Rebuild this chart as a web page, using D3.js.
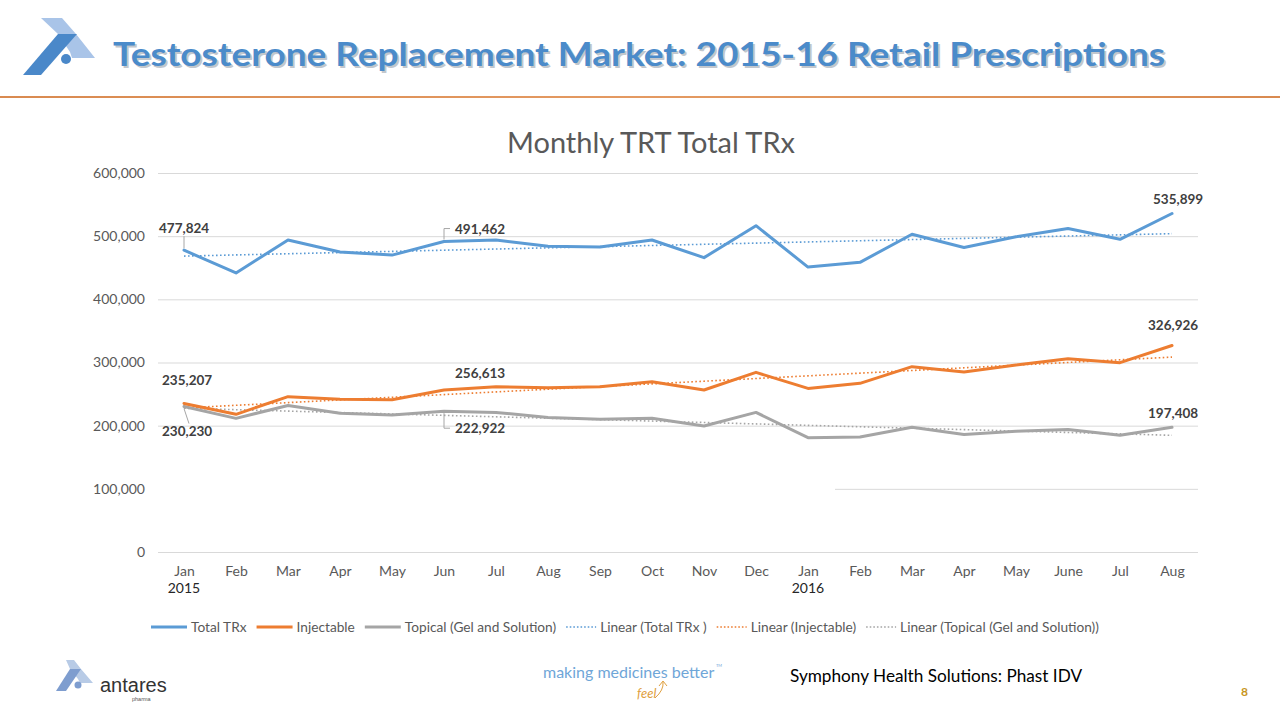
<!DOCTYPE html>
<html><head><meta charset="utf-8">
<script src="https://cdn.jsdelivr.net/npm/d3@7"></script>
<style>html,body{margin:0;padding:0;background:#fff;}svg{display:block;}</style>
</head><body>
<svg id="c" width="1280" height="720"></svg>
<script>
const months = ["Jan","Feb","Mar","Apr","May","Jun","Jul","Aug","Sep","Oct","Nov","Dec","Jan","Feb","Mar","Apr","May","June","Jul","Aug"];
const years = ["2015","","","","","","","","","","","","2016","","","","","","",""];
const totalTRx = [477824,441700,494000,475000,470000,491462,494000,484000,483000,494000,466000,516600,451000,458600,503000,482000,499000,512000,495000,535899];
const injectable = [235207,218000,245900,242000,241000,256613,261700,260000,261700,269600,256500,284400,259000,267000,293400,285000,296000,306000,299700,326926];
const topical = [230230,211600,232000,219500,216900,222922,221000,213000,210000,211600,199500,221000,181000,182000,197400,186000,191000,194000,185000,197408];
const yTicks = [0,100000,200000,300000,400000,500000,600000];
const seriesNames = ["Total TRx","Injectable","Topical (Gel and Solution)"];
const trendNames = ["Linear (Total TRx )","Linear (Injectable)","Linear (Topical (Gel and Solution))"];
const colors = ["#5b9bd5","#ed7d31","#a5a5a5"];

const svg = d3.select("#c");
const F = "Lato, 'Open Sans', sans-serif";

// ---------- header ----------
const logo = svg.append("g");
logo.append("polygon").attr("points","41,18 62,18 76,34 95,58 72,58 70,52 58,34").attr("fill","#a9c4e8");
logo.append("polygon").attr("points","23,75 58,34 77,34 41,75").attr("fill","#4a88c9");
logo.append("circle").attr("cx",66).attr("cy",59).attr("r",5).attr("fill","#4a88c9");

const title = "Testosterone Replacement Market: 2015-16 Retail Prescriptions";
svg.append("text").attr("x",115).attr("y",68).attr("font-family",F).attr("font-weight",700)
  .attr("font-size",33).attr("fill","#9aa3ad").attr("opacity",0.6)
  .attr("textLength",1052).attr("lengthAdjust","spacingAndGlyphs").text(title);
svg.append("text").attr("x",113).attr("y",66).attr("font-family",F).attr("font-weight",700)
  .attr("font-size",33).attr("fill","#4b8bca")
  .attr("textLength",1052).attr("lengthAdjust","spacingAndGlyphs").text(title);

const grad = svg.append("defs").append("linearGradient").attr("id","og");
grad.append("stop").attr("offset","0%").attr("stop-color","#d98a50");
grad.append("stop").attr("offset","50%").attr("stop-color","#e49a62");
grad.append("stop").attr("offset","100%").attr("stop-color","#d98a50");
svg.append("rect").attr("x",0).attr("y",96).attr("width",1280).attr("height",2).attr("fill","url(#og)");

// ---------- chart ----------
svg.append("text").attr("x",507).attr("y",153)
  .attr("font-family",F).attr("font-size",28).attr("fill","#595959")
  .attr("textLength",288).attr("lengthAdjust","spacingAndGlyphs").text("Monthly TRT Total TRx");

const x = d3.scalePoint().domain(d3.range(months.length)).range([158,1198]).padding(0.5);
const y = d3.scaleLinear().domain([0,600000]).range([552,173]);

const yAxis = svg.append("g").attr("transform","translate(158,0)")
  .call(d3.axisLeft(y).tickValues(yTicks).tickSize(-1040).tickPadding(13).tickFormat(d3.format(",")));
yAxis.select(".domain").remove();
yAxis.selectAll(".tick line").attr("stroke","#d9d9d9").attr("stroke-width",1);
yAxis.selectAll(".tick text").attr("font-family",F).attr("font-size",14).attr("fill","#595959");
// white cover over part of the 100,000 gridline (as in the original slide)
svg.append("rect").attr("x",158).attr("y",y(100000)-2).attr("width",677).attr("height",4).attr("fill","#fff");

const xAxis = svg.append("g").attr("transform","translate(0,552)")
  .call(d3.axisBottom(x).tickSize(0).tickPadding(14).tickFormat(i=>months[i]));
xAxis.select(".domain").remove();
xAxis.selectAll(".tick text").attr("font-family",F).attr("font-size",14).attr("fill","#595959");
svg.append("g").selectAll("text").data(years.map((t,i)=>({t,i})).filter(d=>d.t))
  .join("text").attr("x",d=>x(d.i)).attr("y",593).attr("text-anchor","middle")
  .attr("font-family",F).attr("font-size",14).attr("fill","#262626").text(d=>d.t);

const data = [totalTRx, injectable, topical];
// trendlines (ordinary least squares, as Excel "Linear" trendline)
function fit(arr){
  const n=arr.length, xs=d3.range(n);
  const mx=d3.mean(xs), my=d3.mean(arr);
  let num=0,den=0; xs.forEach((xi,i)=>{num+=(xi-mx)*(arr[i]-my);den+=(xi-mx)*(xi-mx);});
  const b=num/den, a=my-b*mx; return xs.map(xi=>a+b*xi);
}
const line = d3.line().x((d,i)=>x(i)).y(d=>y(d));
data.forEach((arr,k)=>{
  svg.append("path").attr("d",line(fit(arr))).attr("fill","none").attr("stroke",colors[k])
    .attr("stroke-width",1.6).attr("stroke-dasharray","1.6,2.4");
});
[2,1,0].forEach(k=>{
  svg.append("path").attr("d",line(data[k])).attr("fill","none").attr("stroke",colors[k])
    .attr("stroke-width",3).attr("stroke-linejoin","round").attr("stroke-linecap","round");
});

// data labels
const fmt = d3.format(",");
const labels = [
  {s:0,i:0,dx:-25,dy:-17,leader:[[0,-2],[0,-14]]},
  {s:0,i:5,dx:11,dy:-8,leader:[[0,-2],[0,-13],[6,-13]]},
  {s:0,i:19,dx:-19,dy:-9},
  {s:1,i:0,dx:-22,dy:-18},
  {s:1,i:5,dx:11,dy:-12},
  {s:1,i:19,dx:-24,dy:-15},
  {s:2,i:0,dx:-22,dy:29,leader:[[0,2],[5,17]]},
  {s:2,i:5,dx:11,dy:22,leader:[[0,2],[0,17],[6,17]]},
  {s:2,i:19,dx:-24,dy:-9}
];
labels.forEach(L=>{
  const px=x(L.i), py=y(data[L.s][L.i]);
  if(L.leader){
    svg.append("path").attr("d",d3.line()(L.leader.map(p=>[px+p[0],py+p[1]])))
      .attr("fill","none").attr("stroke","#a6a6a6").attr("stroke-width",1);
  }
  svg.append("text").attr("x",px+L.dx).attr("y",py+L.dy).attr("font-family",F).attr("font-weight",700)
    .attr("font-size",13.5).attr("fill","#404040").text(fmt(data[L.s][L.i]));
});

// legend
const leg = svg.append("g").attr("transform","translate(0,627)");
let cx = 151;
const items = seriesNames.map((n,k)=>({n,k,dash:false})).concat(trendNames.map((n,k)=>({n,k,dash:true})));
items.forEach(it=>{
  const g = leg.append("g");
  g.append("line").attr("x1",cx).attr("x2",cx+ (it.dash?30:36)).attr("y1",0).attr("y2",0)
    .attr("stroke",colors[it.k]).attr("stroke-width",it.dash?1.6:3)
    .attr("stroke-dasharray",it.dash?"1.6,2":null);
  const t = g.append("text").attr("x",cx+(it.dash?34:40)).attr("y",5).attr("font-family",F)
    .attr("font-size",13.7).attr("fill","#595959").text(it.n);
  cx += (it.dash?34:40) + t.node().getComputedTextLength() + 10;
});

// footer
const fl = svg.append("g");
fl.append("polygon").attr("points","66,660 74,660 81,669 93,683 80,683 78,679 70,669").attr("fill","#b8cbe6");
fl.append("polygon").attr("points","56,691 70,669 81,669 66,691").attr("fill","#7e9dcf");
fl.append("circle").attr("cx",78).attr("cy",685).attr("r",3.5).attr("fill","#7e9dcf");
fl.append("text").attr("x",100).attr("y",692).attr("font-family","'Liberation Sans', Arial, sans-serif")
  .attr("font-size",20).attr("fill","#333").text("antares");
fl.append("text").attr("x",132).attr("y",701).attr("font-family","'Liberation Sans', Arial, sans-serif")
  .attr("font-size",5.5).attr("fill","#555").text("pharma");

svg.append("text").attr("x",543).attr("y",678).attr("font-family",F).attr("font-size",16)
  .attr("fill","#6fa6d8").text("making medicines better");
svg.append("text").attr("x",716).attr("y",667).attr("font-family",F).attr("font-size",4)
  .attr("fill","#6fa6d8").text("TM");
svg.append("text").attr("x",637).attr("y",698).attr("font-family",F).attr("font-style","italic")
  .attr("font-size",13).attr("fill","#e0a040").text("feel");
svg.append("path").attr("d","M655,698 Q664,690 663,682 M659,686 L663,681 L667,686")
  .attr("fill","none").attr("stroke","#e0a040").attr("stroke-width",1);

svg.append("text").attr("x",790).attr("y",682).attr("font-family",F).attr("font-size",17.2)
  .attr("fill","#000").text("Symphony Health Solutions: Phast IDV");
svg.append("text").attr("x",1241).attr("y",696).attr("font-family",F).attr("font-weight",700)
  .attr("font-size",12).attr("fill","#c8961e").text("8");
</script>
</body></html>
